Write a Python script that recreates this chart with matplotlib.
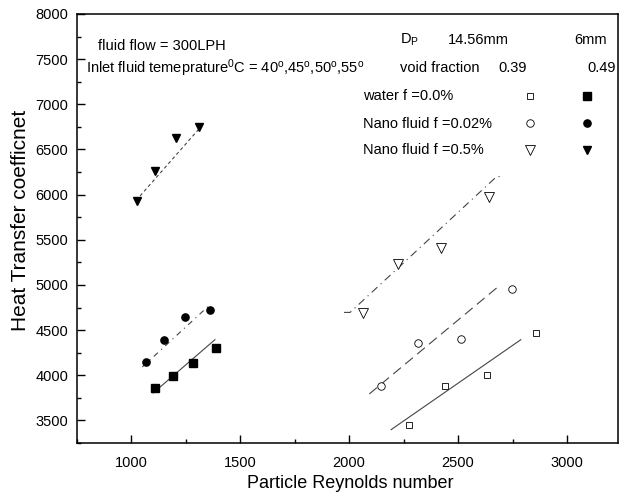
import matplotlib
matplotlib.use("Agg")
import matplotlib.pyplot as plt
from matplotlib.lines import Line2D
from matplotlib.ticker import MultipleLocator

plt.rcParams['font.family'] = ['Liberation Sans', 'DejaVu Sans']
plt.rcParams['mathtext.fontset'] = 'custom'
plt.rcParams['mathtext.rm'] = 'Liberation Sans'
plt.rcParams['mathtext.it'] = 'Liberation Sans'
plt.rcParams['mathtext.bf'] = 'Liberation Sans:bold'

# ---- data (Dp = 6 mm, void fraction 0.49 : filled markers) ----
re_water_6 = [1109, 1191, 1286, 1391]
htc_water_6 = [3863, 3992, 4136, 4298]
re_nf002_6 = [1069, 1153, 1249, 1364]
htc_nf002_6 = [4147, 4394, 4640, 4726]
re_nf05_6 = [1029, 1110, 1206, 1313]
htc_nf05_6 = [5924, 6267, 6625, 6747]

# ---- data (Dp = 14.56 mm, void fraction 0.39 : open markers) ----
re_water_14 = [2275, 2440, 2633, 2858]
htc_water_14 = [3453, 3882, 4007, 4471]
re_nf002_14 = [2145, 2315, 2514, 2746]
htc_nf002_14 = [3877, 4357, 4401, 4958]
re_nf05_14 = [2066, 2226, 2421, 2644]
htc_nf05_14 = [4689, 5231, 5404, 5979]

# ---- fitted trend lines ----
fit_water_6_x = [1102, 1385]
fit_water_6_y = [3804, 4394]
fit_nf002_6_x = [1052, 1367]
fit_nf002_6_y = [4092, 4792]
fit_nf05_6_x = [1023, 1332]
fit_nf05_6_y = [5935, 6783]
fit_water_14_x = [2193, 2788]
fit_water_14_y = [3398, 4394]
fit_nf002_14_x = [2093, 2689]
fit_nf002_14_y = [3793, 4991]
fit_nf05_14_x = [1977, 2005, 2677, 2705]
fit_nf05_14_y = [4696, 4696, 6200, 6200]

W, H = 620, 494
fig = plt.figure(figsize=(W / 100, H / 100), dpi=100)
L, R, T, B = 76.5, 618.3, 14, 443
ax = fig.add_axes([L / W, 1 - B / H, (R - L) / W, (B - T) / H])

lc = '#444444'
lw = 0.8
ax.plot(fit_water_6_x, fit_water_6_y, color=lc, lw=lw, ls='-')
ax.plot(fit_nf002_6_x, fit_nf002_6_y, color=lc, lw=lw, ls=(0, (5, 4, 1, 4)))
ax.plot(fit_nf05_6_x, fit_nf05_6_y, color=lc, lw=lw, ls=(0, (3, 2.5)))
ax.plot(fit_water_14_x, fit_water_14_y, color=lc, lw=lw, ls='-')
ax.plot(fit_nf002_14_x, fit_nf002_14_y, color=lc, lw=lw, ls=(0, (9, 5)))
ax.plot(fit_nf05_14_x, fit_nf05_14_y, color=lc, lw=lw, ls=(0, (7, 4, 1, 4)))

ax.plot(re_water_6, htc_water_6, 's', color='black', ms=5.4, ls='none')
ax.plot(re_nf002_6, htc_nf002_6, 'o', color='black', ms=5.2, ls='none')
ax.plot(re_nf05_6, htc_nf05_6, 'v', color='black', ms=6.3, ls='none')
ax.plot(re_water_14, htc_water_14, 's', mfc='white', mec='black', mew=0.6, ms=5.0, ls='none')
ax.plot(re_nf002_14, htc_nf002_14, 'o', mfc='white', mec='black', mew=0.6, ms=5.4, ls='none')
ax.plot(re_nf05_14, htc_nf05_14, 'v', mfc='white', mec='black', mew=0.6, ms=7.0, ls='none')

ax.set_xlim(750, 3235)
ax.set_ylim(3250, 8000)
ax.set_xticks([1000, 1500, 2000, 2500, 3000])
ax.set_yticks([3500, 4000, 4500, 5000, 5500, 6000, 6500, 7000, 7500, 8000])
ax.xaxis.set_minor_locator(MultipleLocator(250))
ax.yaxis.set_minor_locator(MultipleLocator(250))
ax.tick_params(which='both', direction='in', top=False, right=False, width=1, labelsize=10.5)
ax.tick_params(which='major', length=6)
ax.tick_params(which='minor', length=3)
ax.tick_params(axis='x', pad=9)
ax.tick_params(axis='y', pad=6)
for s in ax.spines.values():
    s.set_linewidth(1.1)

fig.text(21 / W, 1 - 220 / H, 'Heat Transfer coefficnet', rotation=90, fontsize=15,
         ha='center', va='center')
fig.text(350 / W, 1 - 483 / H, 'Particle Reynolds number', fontsize=13,
         ha='center', va='center')

fs = 10.5
def ftxt(x, y, s, **kw):
    fig.text(x / W, 1 - y / H, s, fontsize=fs, va='center', ha='left', **kw)

ftxt(97.5, 46.5, 'fluid flow = 300LPH')
ftxt(86.5, 68, r'Inlet fluid temeprature$^{0}$C = 40$^{o}$,45$^{o}$,50$^{o}$,55$^{o}$')
ftxt(400, 40, r'D$_{\mathrm{P}}$')
ftxt(448, 40, '14.56mm')
ftxt(574, 40, '6mm')
ftxt(400, 68, 'void fraction')
ftxt(498, 68, '0.39')
ftxt(587, 68, '0.49')
ftxt(363, 96.5, 'water f =0.0%')
ftxt(363, 123.5, 'Nano fluid f =0.02%')
ftxt(363, 150, 'Nano fluid f =0.5%')

key_rows = [96.5, 123.5, 150]
key_marks = ['s', 'o', 'v']
key_open_ms = [5.0, 5.4, 7.0]
key_fill_ms = [5.4, 5.2, 6.3]
for yy, m, mo, mf in zip(key_rows, key_marks, key_open_ms, key_fill_ms):
    fig.add_artist(Line2D([530 / W], [1 - yy / H], marker=m, ls='none', mfc='white',
                          mec='black', mew=0.6, ms=mo, transform=fig.transFigure))
    fig.add_artist(Line2D([587 / W], [1 - yy / H], marker=m, ls='none', color='black',
                          ms=mf, transform=fig.transFigure))

fig.savefig('out.png', dpi=100)
